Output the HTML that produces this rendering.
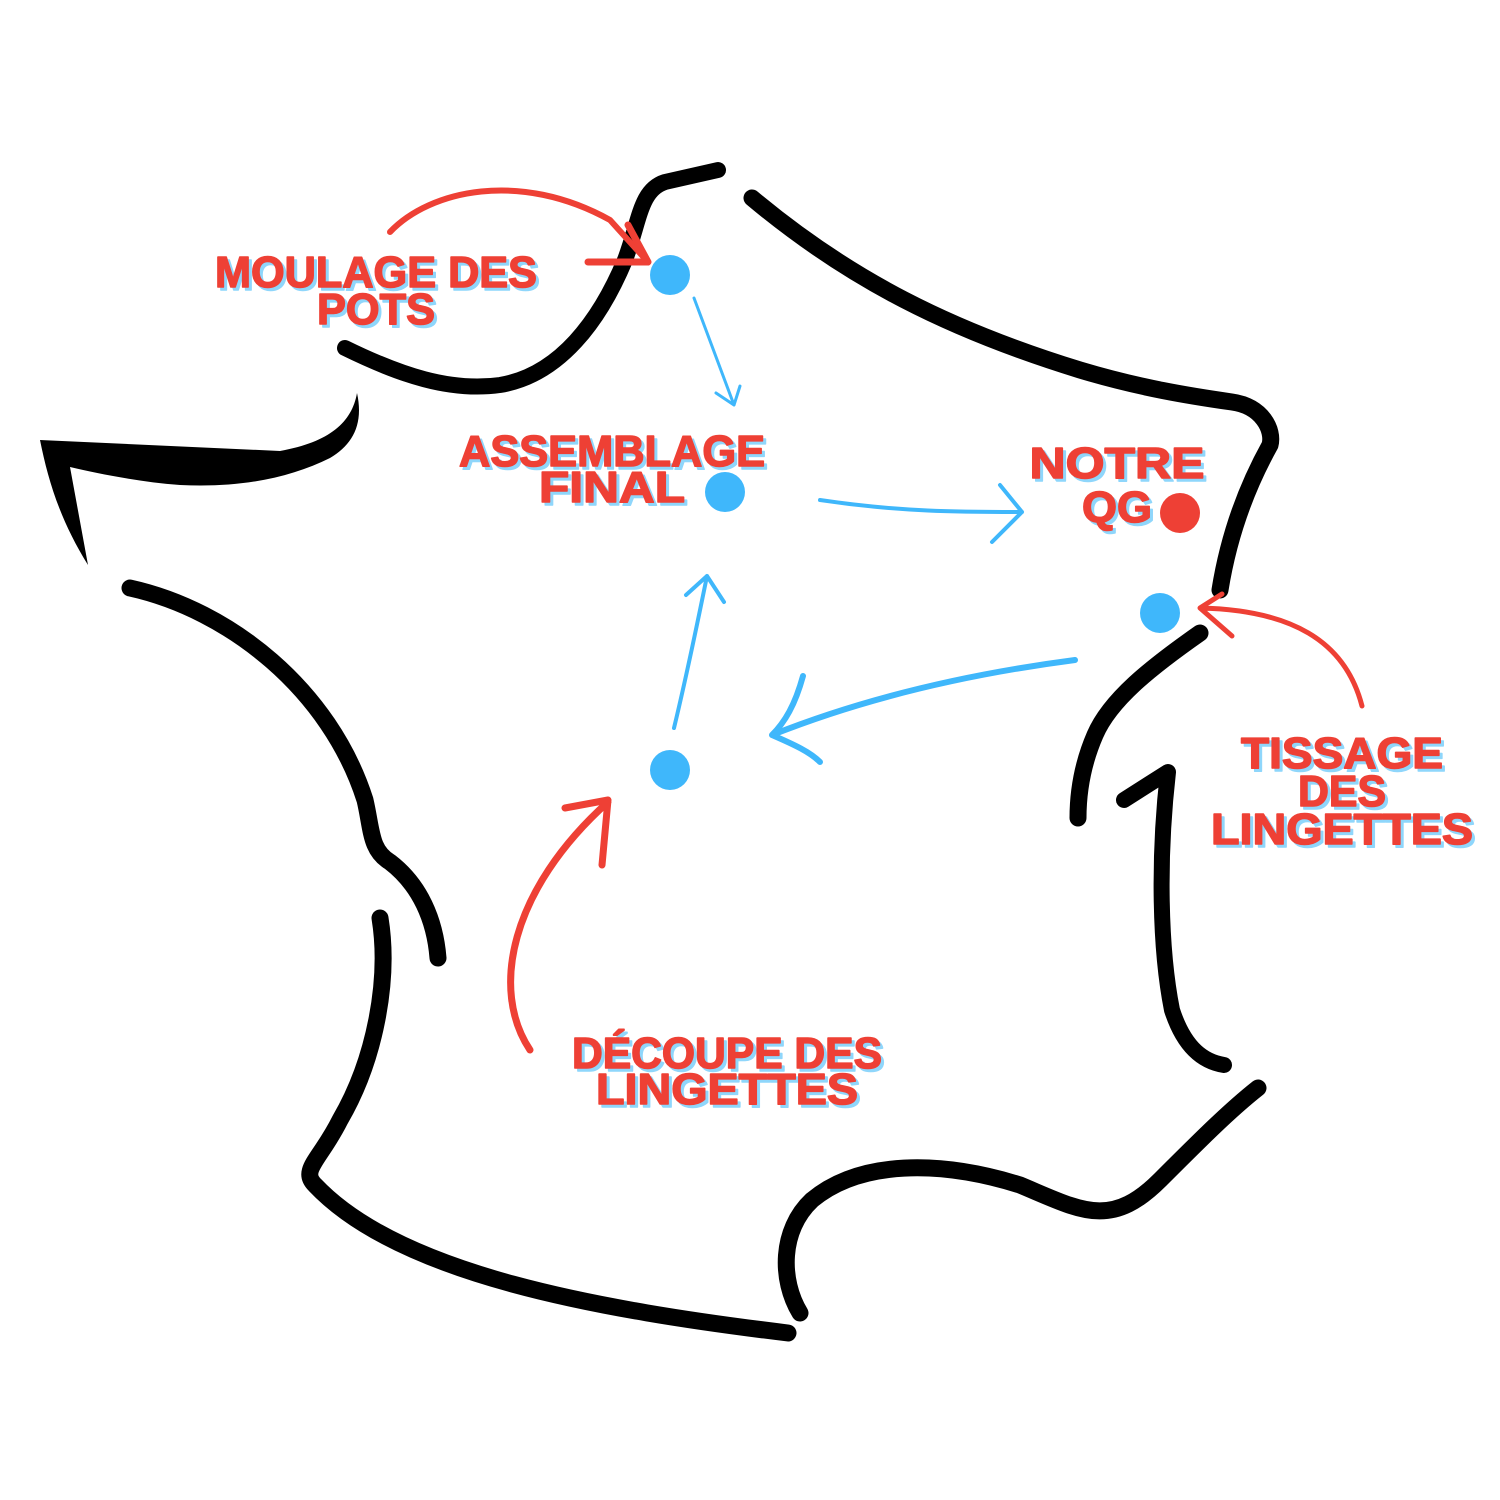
<!DOCTYPE html>
<html><head><style>html,body{margin:0;padding:0;background:#fff}svg{display:block}</style></head>
<body>
<svg width="1500" height="1500" viewBox="0 0 1500 1500" xmlns="http://www.w3.org/2000/svg">
<rect width="1500" height="1500" fill="#fff"/>
<g fill="none" stroke="#000" stroke-linecap="round" stroke-linejoin="round">
<path d="M345,348 C400,375 450,392 500,385 C560,375 600,320 625,260 C640,220 640,190 665,182 L718,170" stroke-width="16"/>
<path d="M752,198 C850,280 950,330 1080,370 C1140,388 1190,396 1232,402 C1262,406 1274,430 1270,445 C1245,490 1228,540 1220,590" stroke-width="17"/>
<path d="M130,588 C230,610 330,690 365,800 C372,830 370,850 390,862 C420,885 435,920 438,958" stroke-width="17"/>
<path d="M380,918 C390,980 375,1060 340,1120 C320,1160 300,1170 315,1185 C400,1275 600,1310 788,1333" stroke-width="17"/>
<path d="M800,1313 C780,1280 780,1230 812,1200 C860,1160 940,1160 1020,1185 C1080,1210 1110,1230 1160,1180 C1200,1140 1230,1110 1258,1088" stroke-width="17"/>
<path d="M1124,800 L1168,772 C1158,860 1160,950 1172,1010 C1185,1050 1205,1062 1224,1065" stroke-width="16"/>
<path d="M1200,633 C1150,668 1110,700 1095,735 C1082,765 1078,795 1078,818" stroke-width="17"/>
</g>
<path d="M40,440 L280,451 C330,442 352,422 357,393 C364,425 352,445 330,458 C290,478 240,488 180,485 C140,482 100,474 70,467 L88,565 C60,520 48,480 40,440 Z" fill="#000"/>
<g fill="#3fb7fb"><circle cx="670" cy="275" r="20"/><circle cx="725" cy="492" r="20"/><circle cx="1160" cy="613" r="20"/><circle cx="670" cy="770" r="20"/></g>
<circle cx="1180" cy="513" r="20" fill="#ee4035"/>
<g fill="none" stroke="#3fb7fb" stroke-linecap="round" stroke-linejoin="round">
<path d="M694,298 L734,405 M716,393 L734,405 L740,386" stroke-width="3"/>
<path d="M820,500 C900,512 960,512 1022,512 M1000,485 L1022,512 L992,542" stroke-width="4"/>
<path d="M674,728 C688,670 698,620 707,576 M686,595 L707,576 L724,602" stroke-width="4"/>
<path d="M1075,660 C960,675 860,700 772,735 M803,676 C795,705 785,722 772,735 C795,745 810,752 820,762" stroke-width="6"/>
</g>
<g fill="none" stroke="#ee4035" stroke-linecap="round" stroke-linejoin="round">
<path d="M390,232 C430,190 520,170 610,220 L648,262" stroke-width="6"/>
<path d="M628,225 L648,262 L588,262" stroke-width="7"/>
<path d="M1362,706 C1345,640 1290,610 1200,608 M1232,636 L1200,608 L1222,594" stroke-width="5"/>
<path d="M530,1050 C490,990 510,890 608,802 M565,808 L608,800 L602,865" stroke-width="7"/>
</g>
<g font-family="'Liberation Sans',sans-serif" font-weight="bold" font-size="44" text-anchor="middle" stroke-width="1.5" stroke-linejoin="round">
<g fill="#8fd6fb" stroke="#8fd6fb" transform="translate(3,3)">
<text x="376" y="287" textLength="322" lengthAdjust="spacingAndGlyphs">MOULAGE DES</text>
<text x="376" y="324" textLength="118" lengthAdjust="spacingAndGlyphs">POTS</text>
<text x="612" y="466" textLength="306" lengthAdjust="spacingAndGlyphs">ASSEMBLAGE</text>
<text x="612" y="502" textLength="146" lengthAdjust="spacingAndGlyphs">FINAL</text>
<text x="1117" y="478" textLength="175" lengthAdjust="spacingAndGlyphs">NOTRE</text>
<text x="1117" y="522" textLength="70" lengthAdjust="spacingAndGlyphs">QG</text>
<text x="1342" y="768" textLength="202" lengthAdjust="spacingAndGlyphs">TISSAGE</text>
<text x="1342" y="806" textLength="88" lengthAdjust="spacingAndGlyphs">DES</text>
<text x="1342" y="844" textLength="262" lengthAdjust="spacingAndGlyphs">LINGETTES</text>
<text x="727" y="1068" textLength="310" lengthAdjust="spacingAndGlyphs">DÉCOUPE DES</text>
<text x="727" y="1104" textLength="262" lengthAdjust="spacingAndGlyphs">LINGETTES</text>
</g>
<g fill="#ee4035" stroke="#ee4035">
<text x="376" y="287" textLength="322" lengthAdjust="spacingAndGlyphs">MOULAGE DES</text>
<text x="376" y="324" textLength="118" lengthAdjust="spacingAndGlyphs">POTS</text>
<text x="612" y="466" textLength="306" lengthAdjust="spacingAndGlyphs">ASSEMBLAGE</text>
<text x="612" y="502" textLength="146" lengthAdjust="spacingAndGlyphs">FINAL</text>
<text x="1117" y="478" textLength="175" lengthAdjust="spacingAndGlyphs">NOTRE</text>
<text x="1117" y="522" textLength="70" lengthAdjust="spacingAndGlyphs">QG</text>
<text x="1342" y="768" textLength="202" lengthAdjust="spacingAndGlyphs">TISSAGE</text>
<text x="1342" y="806" textLength="88" lengthAdjust="spacingAndGlyphs">DES</text>
<text x="1342" y="844" textLength="262" lengthAdjust="spacingAndGlyphs">LINGETTES</text>
<text x="727" y="1068" textLength="310" lengthAdjust="spacingAndGlyphs">DÉCOUPE DES</text>
<text x="727" y="1104" textLength="262" lengthAdjust="spacingAndGlyphs">LINGETTES</text>
</g>
</g>
</svg>
</body></html>
